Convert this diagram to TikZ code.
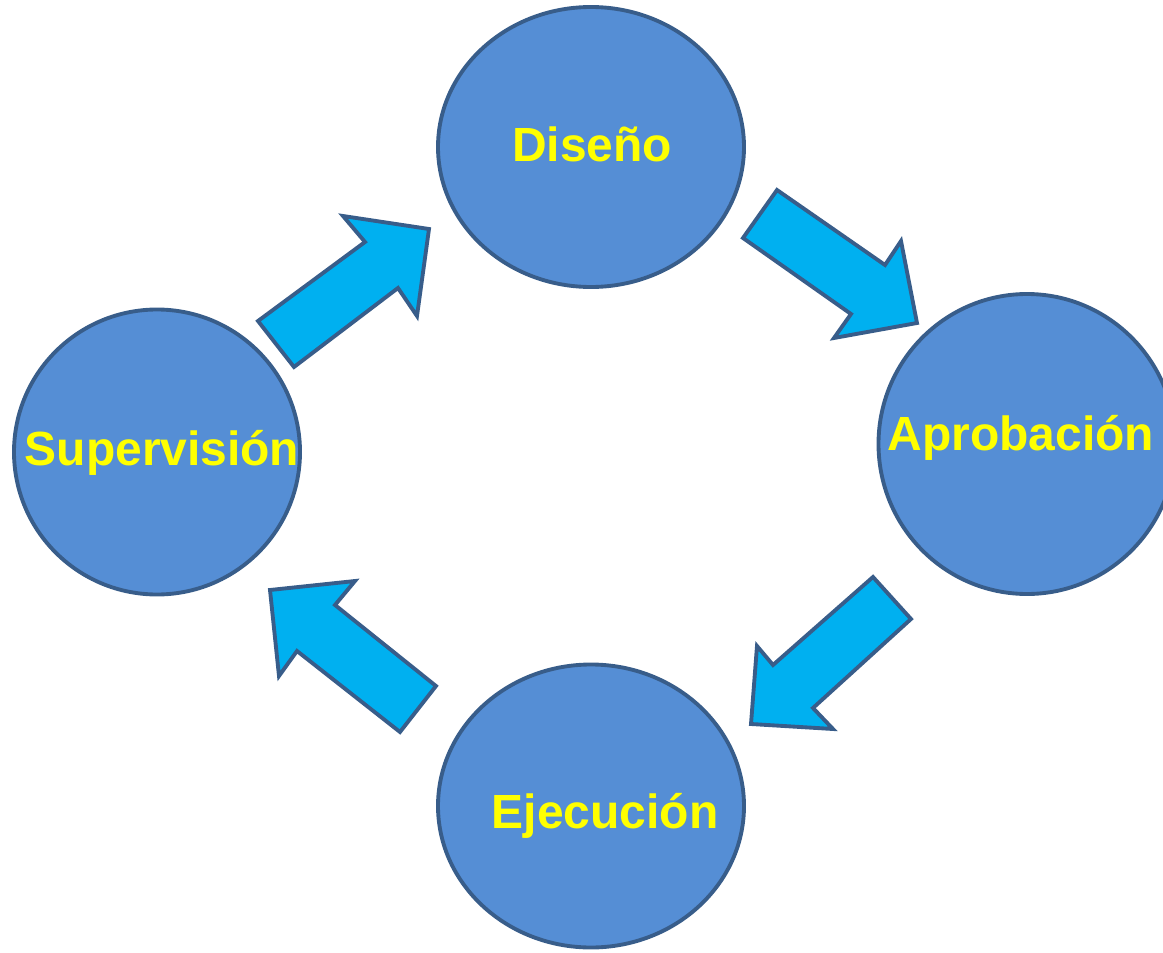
\documentclass[tikz,border=0pt]{standalone}
\usepackage{fontspec}
\setmainfont{Liberation Sans}
\usepackage{tikz}
\usetikzlibrary{shapes.geometric}

\definecolor{circfill}{RGB}{85,142,213}
\definecolor{circline}{RGB}{56,93,138}
\definecolor{arrowfill}{RGB}{0,176,240}
\definecolor{labelyellow}{RGB}{255,255,0}

\tikzset{
    stage/.style={ellipse, draw=circline, fill=circfill, line width=2.2pt, inner sep=0pt},
    stagetext/.style={anchor=base, text=labelyellow, font=\fontsize{27.3}{31}\selectfont\bfseries, inner sep=0pt},
    blockarrow/.style={draw=circline, fill=arrowfill, line width=2.2pt, line join=miter}
}

\begin{document}
\begin{tikzpicture}[x=0.02cm, y=-0.02cm]
    \useasboundingbox (0, 0) rectangle (1163, 953);

    \node[stage, minimum width=306*0.02cm, minimum height=280*0.02cm] (diseno) at (591, 147) {};
    \node[stage, minimum width=297*0.02cm, minimum height=300*0.02cm] (aprob) at (1027, 444) {};
    \node[stage, minimum width=306*0.02cm, minimum height=283*0.02cm] (ejec) at (591, 806) {};
    \node[stage, minimum width=286*0.02cm, minimum height=285*0.02cm] (superv) at (157, 452) {};

    \node[stagetext] (diseno text) at (592, 161) {Diseño};
    \node[stagetext] (aprob text) at (1021, 450) {Aprobación};
    \node[stagetext] (ejec text) at (605, 828) {Ejecución};
    \node[stagetext] (superv text) at (162, 465) {Supervisión};

    \draw[blockarrow]
        (258, 321) -- (365, 242) -- (343, 216) -- (429, 229) -- (417, 316) -- (398, 288) -- (294, 367) -- cycle
        (743, 238) -- (777, 190) -- (885, 265) -- (901, 241) -- (917, 323) -- (834, 338) -- (851, 314) -- cycle
        (911, 619) -- (813, 708) -- (833, 729) -- (751, 724) -- (757, 646) -- (773, 665) -- (873, 577) -- cycle
        (436, 686) -- (335, 605) -- (355, 581) -- (270, 590) -- (279, 676) -- (297, 651) -- (400, 732) -- cycle
    ;
\end{tikzpicture}
\end{document}
